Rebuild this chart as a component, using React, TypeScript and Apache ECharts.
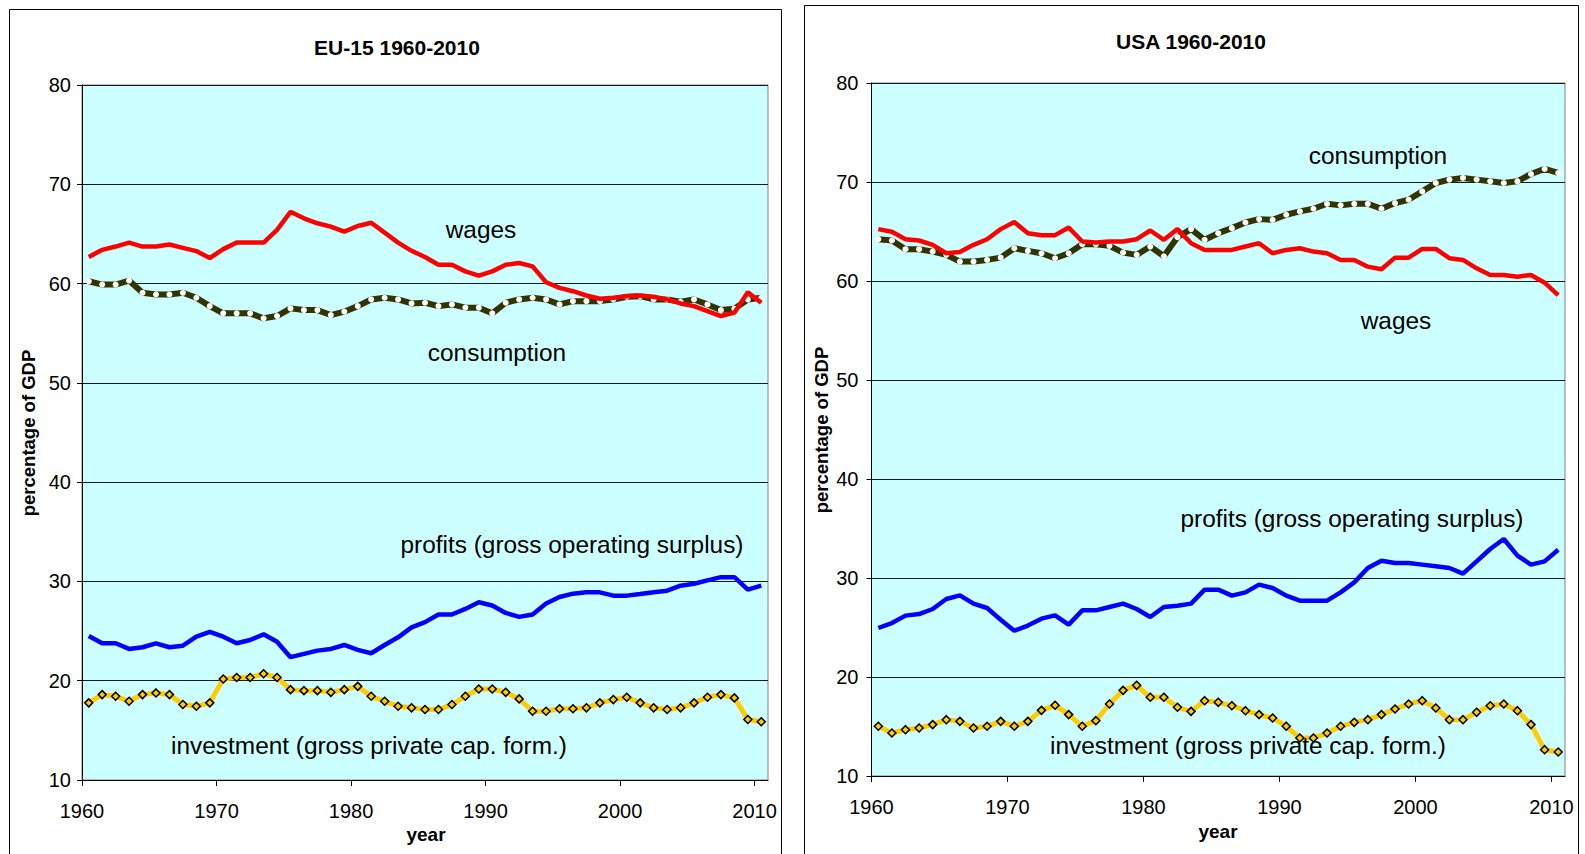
import React, { useEffect, useRef } from 'react';
import * as echarts from 'echarts';

const START_YEAR = 1960;
const END_YEAR = 2010;
const X_TICKS = [1960, 1970, 1980, 1990, 2000, 2010];
const Y_MIN = 10;
const Y_MAX = 80;

const EU_TITLE = 'EU-15 1960-2010';
const US_TITLE = 'USA 1960-2010';

const EU_WAGES = [
  62.67, 63.4, 63.73, 64.13, 63.73, 63.73, 63.93, 63.6, 63.27, 62.57,
  63.47, 64.13, 64.13, 64.13, 65.4, 67.23, 66.57, 66.07, 65.73, 65.23,
  65.8, 66.13, 65.13, 64.13, 63.3, 62.67, 61.9, 61.9, 61.23, 60.8,
  61.23, 61.9, 62.07, 61.73, 60.13, 59.57, 59.23, 58.8, 58.47, 58.57,
  58.73, 58.8, 58.67, 58.4, 58.0, 57.73, 57.23, 56.73, 57.07, 59.13, 58.07,
];
const EU_CONSUMPTION = [
  60.23, 59.9, 59.9, 60.3, 59.07, 58.9, 58.9, 59.07, 58.57, 57.73,
  57.0, 57.0, 57.0, 56.5, 56.73, 57.5, 57.33, 57.33, 56.83, 57.17,
  57.73, 58.4, 58.57, 58.4, 58.0, 58.07, 57.73, 57.9, 57.57, 57.57,
  57.0, 58.07, 58.4, 58.57, 58.4, 57.9, 58.23, 58.23, 58.23, 58.4,
  58.67, 58.73, 58.4, 58.4, 58.17, 58.4, 57.9, 57.33, 57.47, 58.4, 58.57,
];
const EU_PROFITS = [
  24.5, 23.77, 23.77, 23.2, 23.37, 23.77, 23.37, 23.53, 24.43, 24.93,
  24.43, 23.77, 24.1, 24.67, 23.93, 22.37, 22.7, 23.03, 23.2, 23.6,
  23.1, 22.77, 23.6, 24.37, 25.37, 25.9, 26.67, 26.67, 27.23, 27.9,
  27.57, 26.83, 26.43, 26.67, 27.77, 28.43, 28.77, 28.9, 28.9, 28.57,
  28.57, 28.73, 28.9, 29.07, 29.57, 29.77, 30.1, 30.43, 30.43, 29.17, 29.57,
];
const EU_INVESTMENT = [
  17.77, 18.6, 18.43, 17.93, 18.6, 18.77, 18.6, 17.6, 17.43, 17.77,
  20.17, 20.33, 20.33, 20.7, 20.33, 19.1, 19.0, 19.0, 18.83, 19.1,
  19.43, 18.43, 17.93, 17.43, 17.27, 17.1, 17.1, 17.6, 18.43, 19.17,
  19.17, 18.83, 18.17, 16.93, 16.93, 17.17, 17.17, 17.27, 17.77, 18.1,
  18.33, 17.77, 17.27, 17.1, 17.27, 17.77, 18.33, 18.6, 18.27, 16.1, 15.87,
];

const US_WAGES = [
  65.24, 64.97, 64.22, 64.09, 63.65, 62.8, 62.94, 63.65, 64.22, 65.24,
  65.95, 64.83, 64.63, 64.63, 65.41, 63.99, 63.89, 63.99, 63.99, 64.22,
  65.1, 64.16, 65.24, 63.82, 63.14, 63.14, 63.14, 63.48, 63.82, 62.8,
  63.14, 63.31, 62.97, 62.8, 62.13, 62.13, 61.45, 61.18, 62.36, 62.36,
  63.24, 63.24, 62.3, 62.13, 61.28, 60.61, 60.61, 60.44, 60.61, 59.83, 58.58,
];
const US_CONSUMPTION = [
  64.22, 64.09, 63.21, 63.21, 62.97, 62.64, 61.96, 61.96, 62.13, 62.36,
  63.31, 63.04, 62.8, 62.3, 62.8, 63.72, 63.72, 63.55, 62.87, 62.64,
  63.48, 62.5, 64.43, 65.24, 64.16, 64.83, 65.34, 65.91, 66.25, 66.18,
  66.69, 67.03, 67.3, 67.8, 67.64, 67.8, 67.8, 67.3, 67.87, 68.21,
  69.05, 69.9, 70.24, 70.41, 70.24, 70.07, 69.9, 70.07, 70.81, 71.32, 70.91,
];
const US_PROFITS = [
  24.95, 25.45, 26.2, 26.36, 26.87, 27.88, 28.25, 27.41, 26.97, 25.79,
  24.68, 25.19, 25.89, 26.23, 25.29, 26.73, 26.73, 27.07, 27.41, 26.87,
  26.06, 27.07, 27.2, 27.41, 28.82, 28.82, 28.22, 28.55, 29.33, 28.99,
  28.22, 27.71, 27.71, 27.71, 28.55, 29.56, 31.01, 31.75, 31.52, 31.52,
  31.35, 31.18, 31.01, 30.44, 31.68, 32.93, 33.94, 32.26, 31.35, 31.68, 32.86,
];
const US_INVESTMENT = [
  15.02, 14.34, 14.68, 14.85, 15.19, 15.69, 15.52, 14.85, 15.02, 15.52,
  15.02, 15.52, 16.63, 17.14, 16.2, 15.02, 15.59, 17.27, 18.65, 19.16,
  17.95, 17.95, 16.94, 16.53, 17.61, 17.44, 17.1, 16.6, 16.2, 15.86,
  15.02, 13.84, 13.84, 14.34, 15.02, 15.42, 15.69, 16.2, 16.77, 17.27,
  17.61, 16.87, 15.69, 15.69, 16.43, 17.1, 17.27, 16.6, 15.19, 12.66, 12.42,
];

const LABEL_WAGES = 'wages';
const LABEL_CONSUMPTION = 'consumption';
const LABEL_PROFITS = 'profits (gross operating surplus)';
const LABEL_INVESTMENT = 'investment (gross private cap. form.)';

const FONT = '"Liberation Sans", Arial, sans-serif';

// Excel-style category axis: each year sits in the middle of its slot
const toPoints = (vals: number[]) => vals.map((v, i) => [START_YEAR + i + 0.5, v]);

export default function App() {
  const ref = useRef<HTMLDivElement>(null);

  useEffect(() => {
    if (!ref.current) return;
    const chart = echarts.init(ref.current, undefined, { renderer: 'svg' });

    const grids = [
      { left: 82, top: 85, width: 686, height: 695 },
      { left: 871.5, top: 83, width: 693.5, height: 693 },
    ].map((g) => ({
      ...g,
      show: true,
      backgroundColor: '#CCFFFF',
      borderColor: '#808080',
      borderWidth: 1,
    }));

    const xAxis = [0, 1].map((gi) => ({
      type: 'value',
      gridIndex: gi,
      min: START_YEAR,
      max: END_YEAR + 1,
      interval: 10,
      axisLine: { show: true, onZero: false, lineStyle: { color: '#000', width: 1 } },
      axisTick: { show: true, inside: false, length: 6, customValues: X_TICKS, lineStyle: { color: '#000' } },
      axisLabel: {
        customValues: X_TICKS,
        margin: 21,
        fontSize: 20,
        color: '#000',
        fontFamily: FONT,
        showMaxLabel: true,
        formatter: (v: number) => (v % 10 === 0 ? String(v) : ''),
      },
      splitLine: { show: false },
    }));

    const yAxis = [0, 1].map((gi) => ({
      type: 'value',
      gridIndex: gi,
      min: Y_MIN,
      max: Y_MAX,
      interval: 10,
      axisLine: { show: true, lineStyle: { color: '#000', width: 1 } },
      axisTick: { show: true, inside: false, length: 5, lineStyle: { color: '#000' } },
      axisLabel: { margin: gi === 0 ? 11 : 13, fontSize: 20, color: '#000', fontFamily: FONT },
      splitLine: { show: true, lineStyle: { color: '#1a1a1a', width: 1 } },
    }));

    const mkSeries = (gi: number, cons: number[], wages: number[], profits: number[], inv: number[]) => [
      {
        type: 'line',
        xAxisIndex: gi,
        yAxisIndex: gi,
        data: toPoints(cons),
        lineStyle: { color: '#333300', width: 6 },
        itemStyle: { color: '#FFFFFF', borderWidth: 0 },
        symbol: 'circle',
        symbolSize: 6,
        showSymbol: true,
        z: 2,
      },
      {
        type: 'line',
        xAxisIndex: gi,
        yAxisIndex: gi,
        data: toPoints(wages),
        lineStyle: { color: '#FF0000', width: 4.5 },
        itemStyle: { color: '#FF0000' },
        showSymbol: false,
        symbol: 'none',
        z: 3,
      },
      {
        type: 'line',
        xAxisIndex: gi,
        yAxisIndex: gi,
        data: toPoints(profits),
        lineStyle: { color: '#0000FF', width: 4.5 },
        itemStyle: { color: '#0000FF' },
        showSymbol: false,
        symbol: 'none',
        z: 3,
      },
      {
        type: 'line',
        xAxisIndex: gi,
        yAxisIndex: gi,
        data: toPoints(inv),
        lineStyle: { color: '#FFCC00', width: 5 },
        itemStyle: { color: '#FFCC00', borderColor: '#000', borderWidth: 1.5 },
        symbol: 'diamond',
        symbolSize: 8,
        showSymbol: true,
        z: 3,
      },
    ];

    const txt = (x: number, y: number, text: string, size: number, bold = false, rotation = 0) => ({
      type: 'text',
      x,
      y,
      rotation,
      z: 50,
      style: {
        text,
        fontSize: size,
        fontWeight: bold ? 'bold' : 'normal',
        fontFamily: FONT,
        fill: '#000',
        align: 'center',
        verticalAlign: 'middle',
      },
    });

    const graphic = [
      { type: 'rect', shape: { x: 9.5, y: 9.5, width: 772, height: 900 }, style: { fill: 'none', stroke: '#000', lineWidth: 1 }, z: 60 },
      { type: 'rect', shape: { x: 804.5, y: 5.5, width: 774, height: 900 }, style: { fill: 'none', stroke: '#000', lineWidth: 1 }, z: 60 },
      txt(397, 47, EU_TITLE, 21, true),
      txt(1191, 41, US_TITLE, 21, true),
      txt(28, 433, 'percentage of GDP', 18.5, true, Math.PI / 2),
      txt(821, 430, 'percentage of GDP', 18.5, true, Math.PI / 2),
      txt(426, 834, 'year', 19, true),
      txt(1218, 831, 'year', 19, true),
      txt(481, 229, LABEL_WAGES, 24.4),
      txt(497, 352, LABEL_CONSUMPTION, 24.4),
      txt(572, 544, LABEL_PROFITS, 24.4),
      txt(369, 745, LABEL_INVESTMENT, 24.4),
      txt(1378, 155, LABEL_CONSUMPTION, 24.4),
      txt(1396, 320, LABEL_WAGES, 24.4),
      txt(1352, 518, LABEL_PROFITS, 24.4),
      txt(1248, 745, LABEL_INVESTMENT, 24.4),
    ];

    chart.setOption({
      animation: false,
      backgroundColor: '#FFFFFF',
      grid: grids,
      xAxis,
      yAxis,
      series: [
        ...mkSeries(0, EU_CONSUMPTION, EU_WAGES, EU_PROFITS, EU_INVESTMENT),
        ...mkSeries(1, US_CONSUMPTION, US_WAGES, US_PROFITS, US_INVESTMENT),
      ],
      graphic,
    });

    return () => chart.dispose();
  }, []);

  return (
    <div
      ref={ref}
      style={{ position: 'absolute', left: 0, top: 0, width: 1585, height: 854 }}
    />
  );
}
